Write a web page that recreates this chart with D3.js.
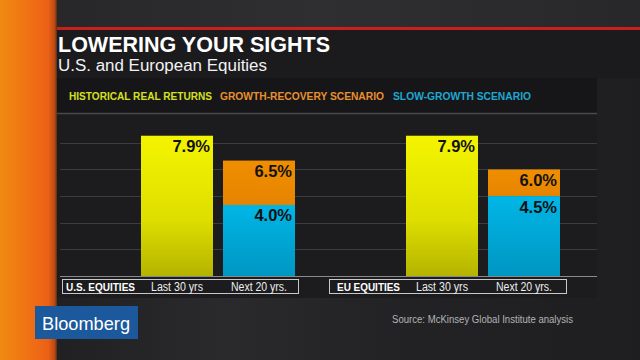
<!DOCTYPE html>
<html><head><meta charset="utf-8">
<script src="https://cdn.jsdelivr.net/npm/d3@7"></script>
<style>html,body{margin:0;padding:0;background:#222224;overflow:hidden}svg{display:block}</style>
</head><body>
<svg id="c" width="640" height="360"></svg>
<script>
const title = "LOWERING YOUR SIGHTS";
const subtitle = "U.S. and European Equities";
const seriesNames = ["HISTORICAL REAL RETURNS", "GROWTH-RECOVERY SCENARIO", "SLOW-GROWTH SCENARIO"];
const groups = ["U.S. EQUITIES", "EU EQUITIES"];
const periods = ["Last 30 yrs", "Next 20 yrs."];
const historical = [7.9, 7.9];
const growthRecovery = [6.5, 6.0];
const slowGrowth = [4.0, 4.5];
const gridTicks = [1.5, 3, 4.5, 6, 7.5];
const source = "Source: McKinsey Global Institute analysis";
const brand = "Bloomberg";

const svg = d3.select("#c");
const W = 640, H = 360;
const F = "'Liberation Sans', Arial, Helvetica, sans-serif";
const defs = svg.append("defs");
function lin(id, stops, x2, y2) {
  const g = defs.append("linearGradient").attr("id", id)
    .attr("x1", 0).attr("y1", 0).attr("x2", x2).attr("y2", y2);
  stops.forEach(s => g.append("stop").attr("offset", s[0]).attr("stop-color", s[1]));
}
lin("gOrangeStrip", [[0, "#f08a12"], [0.45, "#f07414"], [0.85, "#ec6016"], [0.96, "#b84a12"], [1, "#5a2a14"]], 1, 0);
lin("gBg", [[0, "#1d1d1f"], [0.35, "#2a2a2c"], [0.6, "#232325"], [1, "#1e1e20"]], 1, 0);
lin("gTop", [[0, "#262628"], [0.5, "#2f2f31"], [1, "#28282a"]], 1, 0);
lin("gYellow", [[0, "#f4f400"], [0.6, "#dede00"], [1, "#b4b400"]], 0, 1);
lin("gBlue", [[0, "#00b6e6"], [1, "#0096c2"]], 0, 1);
lin("gOrange", [[0, "#f08e00"], [1, "#e68400"]], 0, 1);

// background
svg.append("rect").attr("width", W).attr("height", H).attr("fill", "url(#gBg)");
svg.append("rect").attr("x", 0).attr("y", 0).attr("width", W).attr("height", 27).attr("fill", "url(#gTop)");
svg.append("rect").attr("x", 52).attr("y", 27).attr("width", W - 52).attr("height", 3).attr("fill", "#c8201c");
svg.append("rect").attr("x", 52).attr("y", 30).attr("width", W - 52).attr("height", 48).attr("fill", "#1b1b1d");
svg.append("rect").attr("x", 57).attr("y", 78).attr("width", 540).attr("height", 35).attr("fill", "#161618");
svg.append("rect").attr("x", 57).attr("y", 113).attr("width", 540).attr("height", 185).attr("fill", "#1c1c1e");
svg.append("line").attr("x1", 57).attr("x2", 597).attr("y1", 113.5).attr("y2", 113.5).attr("stroke", "#4a4a4c").attr("stroke-width", 1.5);
svg.append("rect").attr("x", 0).attr("y", 0).attr("width", 57).attr("height", H).attr("fill", "url(#gOrangeStrip)");

// title
svg.append("text").attr("x", 58).attr("y", 52).attr("fill", "#fff").attr("font-family", F)
  .attr("font-weight", "bold").attr("font-size", 21.5).attr("textLength", 272).attr("lengthAdjust", "spacingAndGlyphs").text(title);
svg.append("text").attr("x", 58).attr("y", 71).attr("fill", "#f2f2f2").attr("font-family", F)
  .attr("font-size", 16).attr("textLength", 209).attr("lengthAdjust", "spacingAndGlyphs").text(subtitle);

// legend
const legColors = ["#d6e020", "#e8902e", "#1ea8d2"];
const legX = [69, 220, 393], legW = [143, 164, 138];
seriesNames.forEach((s, i) => {
  svg.append("text").attr("x", legX[i]).attr("y", 99.5).attr("fill", legColors[i]).attr("font-family", F)
    .attr("font-weight", "bold").attr("font-size", 10.5).attr("textLength", legW[i]).attr("lengthAdjust", "spacingAndGlyphs").text(s);
});

// scales
const y = d3.scaleLinear().domain([0, 9.18]).range([276, 113]);
const x0 = d3.scaleBand().domain(groups).range([60, 590]).padding(0);
const x1 = d3.scaleBand().domain(periods).range([81, 235]).paddingInner(0.122).paddingOuter(0);

// gridlines
svg.append("g").selectAll("line").data(gridTicks).join("line")
  .attr("x1", 60).attr("x2", 597).attr("y1", d => Math.round(y(d)) + 0.5).attr("y2", d => Math.round(y(d)) + 0.5)
  .attr("stroke", "#3c3c3e").attr("stroke-width", 1.2);

// bars
const g = svg.append("g");
groups.forEach((grp, i) => {
  const gx = x0(grp);
  const bw = x1.bandwidth();
  const xa = gx + x1(periods[0]), xb = gx + x1(periods[1]);
  g.append("rect").attr("x", xa).attr("y", y(historical[i])).attr("width", bw).attr("height", y(0) - y(historical[i])).attr("fill", "url(#gYellow)");
  g.append("rect").attr("x", xb).attr("y", y(growthRecovery[i])).attr("width", bw).attr("height", y(slowGrowth[i]) - y(growthRecovery[i])).attr("fill", "url(#gOrange)");
  g.append("rect").attr("x", xb).attr("y", y(slowGrowth[i])).attr("width", bw).attr("height", y(0) - y(slowGrowth[i])).attr("fill", "url(#gBlue)");
  const lab = (xx, v) => g.append("text").attr("x", xx + bw - 3).attr("y", y(v) + 16.5).attr("text-anchor", "end")
    .attr("font-family", F).attr("font-weight", "bold").attr("font-size", 16.5).attr("fill", "#121212").text(v.toFixed(1) + "%");
  lab(xa, historical[i]);
  lab(xb, growthRecovery[i]);
  lab(xb, slowGrowth[i]);

  // label box
  const bx = gx + 2 + (i ? 2 : 0), bxr = xb + bw + 3 + (i ? 3 : 0);
  g.append("rect").attr("x", bx + 0.5).attr("y", 279.5).attr("width", bxr - bx).attr("height", 14).attr("fill", "none").attr("stroke", "#c8c8c8").attr("stroke-width", 1);
  g.append("text").attr("x", bx + 4 + (i ? 4 : 0)).attr("y", 291).attr("fill", "#fff").attr("font-family", F).attr("font-weight", "bold")
    .attr("font-size", 11.5).attr("textLength", i ? 63 : 69).attr("lengthAdjust", "spacingAndGlyphs").text(grp);
  periods.forEach((p, j) => {
    g.append("text").attr("x", gx + x1(p) + bw / 2).attr("y", 291).attr("text-anchor", "middle").attr("fill", "#eee")
      .attr("font-family", F).attr("font-size", 12).attr("textLength", j ? 56 : 52).attr("lengthAdjust", "spacingAndGlyphs").text(p);
  });
});
// baseline
svg.append("line").attr("x1", 60).attr("x2", 597).attr("y1", 276.5).attr("y2", 276.5).attr("stroke", "#8a8a8c").attr("stroke-width", 1.2);

// brand + source
svg.append("rect").attr("x", 35).attr("y", 306).attr("width", 103).attr("height", 33).attr("fill", "#1c589c");
svg.append("text").attr("x", 42).attr("y", 329.5).attr("fill", "#fff").attr("font-family", F).attr("font-size", 18.5)
  .attr("textLength", 88).attr("lengthAdjust", "spacingAndGlyphs").text(brand);
svg.append("text").attr("x", 392).attr("y", 323).attr("fill", "#b4b4b4").attr("font-family", F).attr("font-size", 10)
  .attr("textLength", 181).attr("lengthAdjust", "spacingAndGlyphs").text(source);
</script>
</body></html>
